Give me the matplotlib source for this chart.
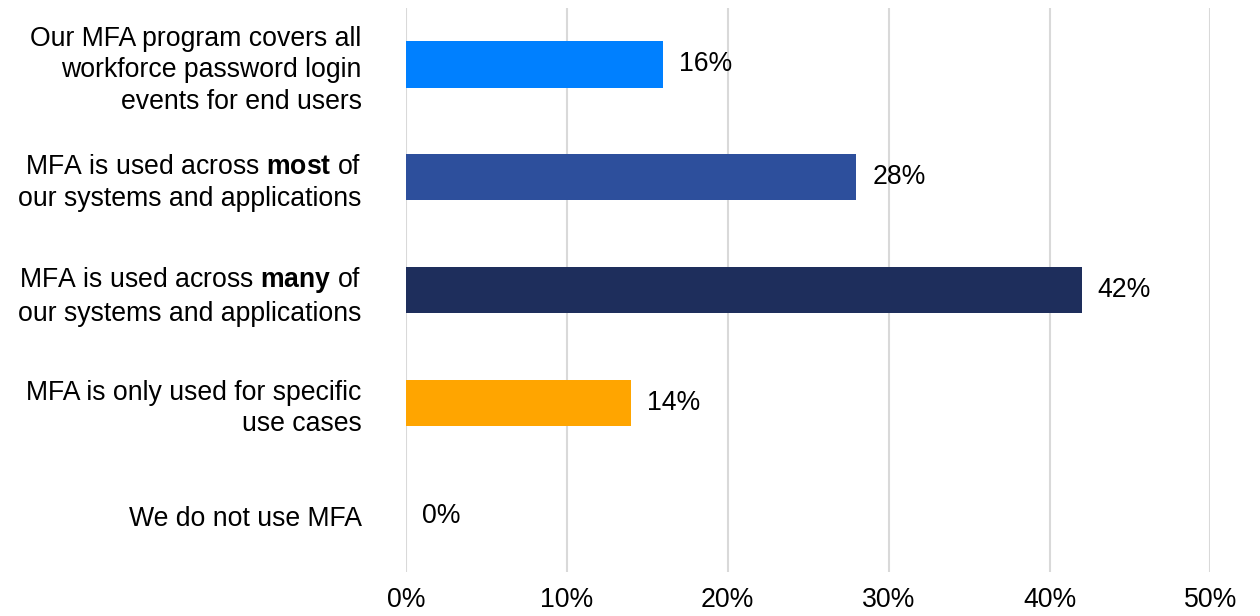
import matplotlib
matplotlib.use("Agg")
import matplotlib.pyplot as plt

plt.rcParams["font.family"] = ["Liberation Sans", "DejaVu Sans"]
plt.rcParams["mathtext.fontset"] = "custom"
plt.rcParams["mathtext.rm"] = "Liberation Sans"
plt.rcParams["mathtext.bf"] = "Liberation Sans:bold"

categories = [
    "Our MFA program covers all\nworkforce password login\nevents for end users",
    "MFA is used across $\\mathbf{most}$ of\nour systems and applications",
    "MFA is used across $\\mathbf{many}$ of\nour systems and applications",
    "MFA is only used for specific\nuse cases",
    "We do not use MFA",
]
values = [16, 28, 42, 14, 0]
colors = ["#0080FF", "#2D4F9C", "#1E2E5C", "#FFA500", "#FFA500"]
xticks = [0, 10, 20, 30, 40, 50]
xtick_labels = ["0%", "10%", "20%", "30%", "40%", "50%"]

FS = 19.2

fig = plt.figure(figsize=(12.6, 6.16), dpi=100)
ax = fig.add_axes([0.3222, 0.0714, 0.6385, 0.9156])

ypos = list(range(len(categories)))
bars = ax.barh(ypos, values, height=0.41, color=colors, zorder=3)
ax.bar_label(bars, labels=[f"{v}%" for v in values], padding=11.5,
             fontsize=FS, color="black")

ax.set_xlim(0, 50)
ax.set_ylim(len(categories) - 0.5, -0.5)
ax.set_xticks(xticks)
ax.set_xticklabels(xtick_labels, fontsize=FS)
ax.set_yticks(ypos)
ax.set_yticklabels(categories, fontsize=FS, linespacing=1.28)
ax.tick_params(axis="both", length=0)
ax.tick_params(axis="x", pad=11)
ax.tick_params(axis="y", pad=32)
ax.grid(axis="x", color="#D9D9D9", linewidth=1.5, zorder=0)
ax.grid(axis="y", visible=False)
for s in ax.spines.values():
    s.set_visible(False)

fig.savefig("out.png", dpi=100, facecolor="white")
